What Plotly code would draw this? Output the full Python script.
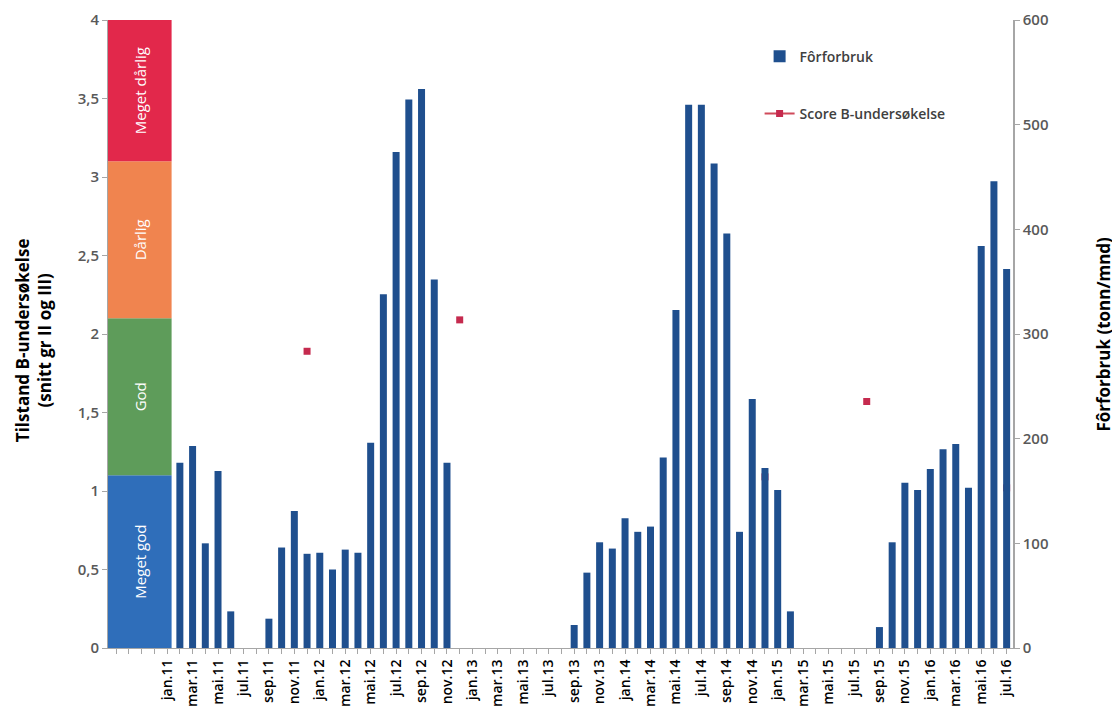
import plotly.graph_objects as go

# ---------------- data ----------------
month_names = ["jan", "feb", "mar", "apr", "mai", "jun", "jul", "aug", "sep", "okt", "nov", "des"]
years = ["11", "12", "13", "14", "15", "16"]
months = [f"{m}.{y}" for y in years for m in month_names][:67]  # jan.11 .. jul.16

feed_2011 = [0, 177, 193, 100, 169, 35, 0, 0, 28, 96, 131, 90]
feed_2012 = [91, 75, 94, 91, 196, 338, 474, 524, 534, 352, 177, 0]
feed_2013 = [0, 0, 0, 0, 0, 0, 0, 0, 22, 72, 101, 95]
feed_2014 = [124, 111, 116, 182, 323, 519, 519, 463, 396, 111, 238, 172]
feed_2015 = [151, 35, 0, 0, 0, 0, 0, 0, 20, 101, 158, 151]
feed_2016 = [171, 190, 195, 153, 384, 446, 362]
feed = feed_2011 + feed_2012 + feed_2013 + feed_2014 + feed_2015 + feed_2016

score_months = ["des.11", "des.12", "des.14", "aug.15", "jul.16"]
score_values = [1.89, 2.09, 1.09, 1.57, 1.02]

band_labels = ["Meget god", "God", "Dårlig", "Meget dårlig"]
band_upper = [1.1, 2.1, 3.1, 4.0]
band_colors = ["#2F6EBA", "#5E9C5A", "#F0844F", "#E2284B"]

left_ticks = [0, 0.5, 1, 1.5, 2, 2.5, 3, 3.5, 4]
left_ticktext = ["0", "0,5", "1", "1,5", "2", "2,5", "3", "3,5", "4"]
right_ticks = [0, 100, 200, 300, 400, 500, 600]

left_title = "Tilstand B-undersøkelse<br>(snitt gr II og III)"
right_title = "Fôrforbruk (tonn/mnd)"

# ---------------- layout constants ----------------
BAND_CENTER = -2.15
BAND_WIDTH = 5.0
X_RANGE = [-4.65, 66.5]
FONT = "Open Sans"

x_idx = list(range(len(months)))
score_x = [months.index(m) for m in score_months]
score_full = [None] * len(months)
for xi, v in zip(score_x, score_values):
    score_full[xi] = v

fig = go.Figure()

# condition bands (stacked with explicit base)
lower = 0
for lab, up, col in zip(band_labels, band_upper, band_colors):
    fig.add_trace(go.Bar(
        x=[BAND_CENTER], y=[up - lower], base=[lower], width=[BAND_WIDTH],
        marker=dict(color=col, line=dict(width=0)),
        text=[lab], textposition="inside", insidetextanchor="middle",
        textangle=-90, textfont=dict(color="white", size=15, family=FONT),
        showlegend=False, yaxis="y", hoverinfo="skip",
    ))
    lower = up

fig.add_trace(go.Bar(
    x=x_idx, y=feed, name="Fôrforbruk", yaxis="y2", width=0.55,
    marker=dict(color="#1F4F8E", line=dict(width=0)),
    legendgroup="a",
))

fig.add_trace(go.Scatter(
    x=x_idx, y=score_full, name="Score B-undersøkelse", yaxis="y",
    mode="lines+markers", connectgaps=False,
    line=dict(color="#D04A5A", width=2),
    marker=dict(symbol="square", size=7, color="#C52A4E"),
    legendgroup="b",
))

tickvals = list(range(-4, len(months)))
ticktext = [months[i] if (i >= 0 and i % 2 == 0) else "" for i in tickvals]

title_font = dict(family=FONT, size=17, color="#000000", weight=700)

fig.update_layout(
    width=1112, height=719,
    margin=dict(l=100, r=107, t=12, b=79, autoexpand=False),
    paper_bgcolor="white", plot_bgcolor="white",
    barmode="overlay",
    font=dict(family=FONT, color="#404040", size=14),
    xaxis=dict(
        range=X_RANGE, tickmode="array", tickvals=tickvals, ticktext=ticktext,
        tickangle=-90, ticks="outside", ticklen=5, tickcolor="#A6A6A6",
        showline=True, linecolor="#A6A6A6", linewidth=1,
        showgrid=False, zeroline=False, automargin=False,
        tickfont=dict(family=FONT, size=14, color="#000000", weight=600),
    ),
    yaxis=dict(
        range=[0, 4], tickmode="array", tickvals=left_ticks, ticktext=left_ticktext,
        ticks="outside", ticklen=5, tickcolor="#A6A6A6",
        showline=True, linecolor="#A6A6A6", linewidth=1,
        showgrid=False, zeroline=False, automargin=False,
        tickfont=dict(family=FONT, size=15, color="#595959", weight=600),
    ),
    yaxis2=dict(
        range=[0, 600], overlaying="y", side="right", tickvals=right_ticks,
        ticks="outside", ticklen=5, tickcolor="#A6A6A6",
        showline=True, linecolor="#A6A6A6", linewidth=1.5,
        showgrid=False, zeroline=False, automargin=False,
        tickfont=dict(family=FONT, size=15, color="#595959", weight=600),
    ),
    legend=dict(
        x=0.72, y=0.967, xanchor="left", yanchor="top",
        traceorder="grouped", tracegroupgap=36,
        bgcolor="rgba(0,0,0,0)",
        font=dict(family=FONT, size=14, color="#404040", weight=600),
        itemwidth=30,
    ),
    annotations=[
        dict(text=left_title, xref="paper", yref="paper", x=-0.083, y=0.49,
             xanchor="center", yanchor="middle", textangle=-90, showarrow=False,
             font=title_font),
        dict(text=right_title, xref="paper", yref="paper", x=1.099, y=0.5,
             xanchor="center", yanchor="middle", textangle=-90, showarrow=False,
             font=title_font),
    ],
)

fig.write_html("out.html")
